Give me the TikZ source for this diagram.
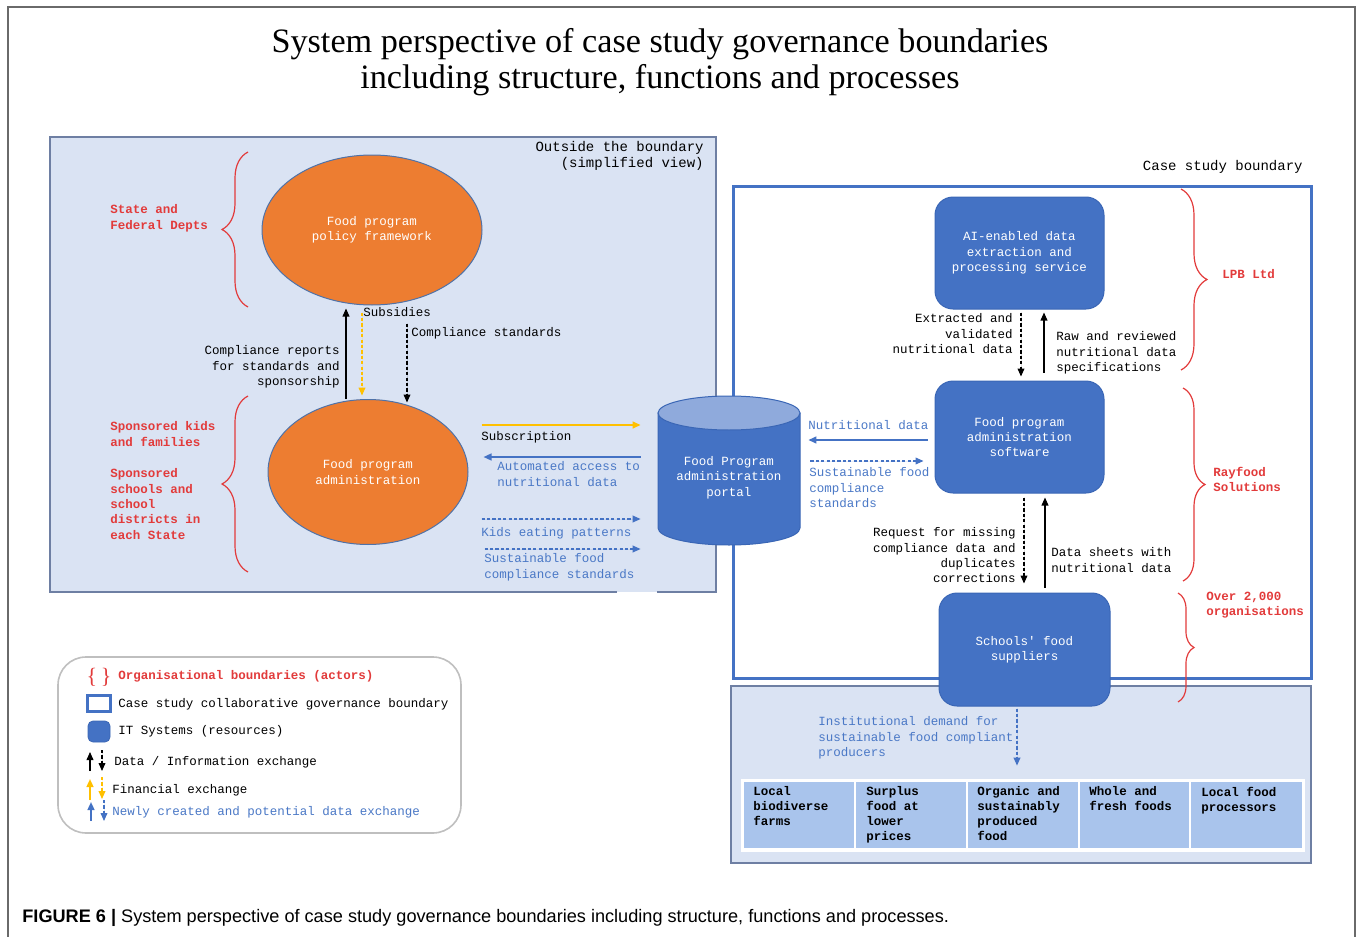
\documentclass[tikz,border=0pt]{standalone}
\usepackage{fontspec}
\setmainfont{Liberation Serif}
\setsansfont{Liberation Sans}
\setmonofont{Liberation Mono}
\usetikzlibrary{arrows.meta,decorations.pathreplacing,shapes.geometric,calc}
\definecolor{lbfill}{HTML}{DAE3F3}
\definecolor{lbdraw}{HTML}{6E7FA3}
\definecolor{itblue}{HTML}{4472C4}
\definecolor{itdraw}{HTML}{3A66B5}
\definecolor{orng}{HTML}{ED7D31}
\definecolor{elldraw}{HTML}{4F72A8}
\definecolor{ylw}{HTML}{FFC000}
\definecolor{rd}{HTML}{E23B3B}
\definecolor{bltxt}{HTML}{4A78C6}
\definecolor{cellc}{HTML}{A9C4EC}
\definecolor{captop}{HTML}{8FAADC}
\definecolor{legdraw}{HTML}{BFBFBF}
\definecolor{framec}{HTML}{6A6A6A}
\begin{document}
\begin{tikzpicture}[x=0.5pt,y=-0.5pt,
  tip/.style={-{Triangle[length=4pt,width=3.4pt]}},
  txt/.style={font=\ttfamily\fontsize{6.25}{7.65}\selectfont, inner sep=0pt, align=left},
  txtr/.style={txt, align=right},
  bigtxt/.style={font=\ttfamily\fontsize{7}{8}\selectfont, inner sep=0pt, align=right},
  redt/.style={text=rd, font=\ttfamily\bfseries\fontsize{6.25}{7.65}\selectfont},
  boldt/.style={font=\ttfamily\bfseries\fontsize{6.25}{7.5}\selectfont},
  blt/.style={text=bltxt},
  wtxt/.style={font=\ttfamily\fontsize{6.25}{7.65}\selectfont, align=center, text=white},
  solidk/.style={tip, draw=black, fill=black, line width=0.6pt},
  dashk/.style={tip, draw=black, fill=black, line width=0.6pt, dash pattern=on 1.6pt off 1.1pt},
  solidy/.style={tip, draw=ylw, fill=ylw, line width=0.9pt},
  dashy/.style={tip, draw=ylw, fill=ylw, line width=0.7pt, dash pattern=on 1.6pt off 1.1pt},
  solidb/.style={tip, draw=itblue, fill=itblue, line width=0.9pt},
  dashb/.style={tip, draw=itblue, fill=itblue, line width=0.6pt, dash pattern=on 1.6pt off 1.1pt},
  brc/.style={draw=rd, line width=0.6pt, decorate, decoration={brace, amplitude=#1}},
  itbox/.style={rectangle, rounded corners=9pt, fill=itblue, draw=itdraw, line width=0.5pt, wtxt, inner sep=0pt},
  orell/.style={ellipse, fill=orng, draw=elldraw, line width=0.5pt, wtxt, inner sep=0pt},
  cellbox/.style={fill=cellc},
]
\useasboundingbox (0,0) rectangle (1357,937);
% outer frame
\draw[framec, line width=0.9pt] (8,945) -- (8,7) -- (1355,7) -- (1355,945);

% title
\node[font=\fontsize{17.1}{18.5}\selectfont, anchor=base, inner sep=0pt] (title1) at (660,53) {System perspective of case study governance boundaries};
\node[font=\fontsize{17.1}{18.5}\selectfont, anchor=base, inner sep=0pt] (title2) at (660,88) {including structure, functions and processes};

% left box
\fill[lbfill] (50,137) rectangle (716,592);
\draw[lbdraw, line width=0.7pt] (617,592) -- (50,592) -- (50,137) -- (716,137) -- (716,592) -- (657,592);
\node[bigtxt, anchor=north east] (outside) at (704,141) {Outside the boundary\\(simplified view)};

% ellipses
\node[orell, minimum width=110pt, minimum height=75pt] (pol) at (372,230) {Food program\\policy framework};
\node[orell, minimum width=100pt, minimum height=72.5pt] (adm) at (368,472) {Food program\\administration};

% helper coordinates
\coordinate (v346) at (346,0);
\coordinate (v362) at (362,0);
\coordinate (v407) at (407,0);
\coordinate (h425) at (0,425);
\coordinate (h457) at (0,457);
\coordinate (h519) at (0,519);
\coordinate (h549) at (0,549);
\coordinate (h440) at (0,440);
\coordinate (h461) at (0,461);
\coordinate (v1021) at (1021,0);
\coordinate (v1044) at (1044,0);
\coordinate (v1024) at (1024,0);
\coordinate (v1045) at (1045,0);
\coordinate (v1017) at (1017,0);

% braces left
\draw[brc=13pt] (248,307) -- (248,152);
\draw[brc=13pt] (248,572) -- (248,396);
\node[txt, redt, anchor=north west] (state) at (110,204.5) {State and\\Federal Depts};
\node[txt, redt, anchor=north west] (kids) at (110,421.5) {Sponsored kids\\and families};
\node[txt, redt, anchor=north west] (schools) at (110,468.5) {Sponsored\\schools and\\school\\districts in\\each State};

% vertical arrows between ellipses
\draw[solidk, shorten >=1.5pt] (v346 |- adm.north) -- (v346 |- pol.south);
\draw[dashy, shorten <=3.5pt, shorten >=1.75pt] (v362 |- pol.south) -- (v362 |- adm.north);
\draw[dashk, shorten <=9pt, shorten >=-1.75pt] (v407 |- pol.south) -- (v407 |- adm.north);
\node[txt, anchor=north west] (subs) at (363,307.5) {Subsidies};
\node[txt, anchor=north west] (cstd) at (411,327.5) {Compliance standards};
\node[txtr, anchor=north east] (crep) at (340,345.5) {Compliance reports\\for standards and\\sponsorship};

% right area boxes
\fill[lbfill] (731,686) rectangle (1311,863);
\draw[lbdraw, line width=0.7pt] (731,686) rectangle (1311,863);
\draw[itblue, line width=1.5pt] (733,186) rectangle (1311,678);
\node[bigtxt, anchor=north east] (csb) at (1303,160) {Case study boundary};

% cylinder
\filldraw[fill=itblue, draw=itdraw, line width=0.5pt] (658,413) -- (658,528) arc[start angle=180, end angle=360, x radius=35.5pt, y radius=8.5pt] -- (800,413) -- cycle;
\filldraw[fill=captop, draw=itdraw, line width=0.5pt] (729,413) ellipse [x radius=35.5pt, y radius=8.5pt];
\node[wtxt, inner sep=0pt, minimum width=71pt] (portal) at (729,477.5) {Food Program\\administration\\portal};

% IT boxes
\node[itbox, minimum width=84.5pt, minimum height=56pt] (ai) at (1019.5,253) {AI-enabled data\\extraction and\\processing service};
\node[itbox, minimum width=84.5pt, minimum height=56pt] (sw) at (1019.5,437) {Food program\\administration\\software};
\node[itbox, minimum width=85.5pt, minimum height=56.5pt] (sup) at (1024.5,649.5) {Schools' food\\suppliers};

% horizontal arrows left
\draw[solidy, shorten <=6.5pt, shorten >=8.5pt] (adm.east |- h425) -- (portal.west |- h425);
\draw[solidb, shorten <=8.5pt, shorten >=7.5pt] (portal.west |- h457) -- (adm.east |- h457);
\draw[dashb, shorten <=6.5pt, shorten >=8.5pt] (adm.east |- h519) -- (portal.west |- h519);
\draw[dashb, shorten <=8pt, shorten >=8.5pt] (adm.east |- h549) -- (portal.west |- h549);
\node[txt, anchor=north west] (subscr) at (481,431.5) {Subscription};
\node[txt, blt, anchor=north west] (auto) at (497,461.5) {Automated access to\\nutritional data};
\node[txt, blt, anchor=north west] (keat) at (481,527.5) {Kids eating patterns};
\node[txt, blt, anchor=north west] (sfcs1) at (484,553.5) {Sustainable food\\compliance standards};

% arrows portal - software
\draw[solidb, shorten <=3.5pt, shorten >=4pt] (sw.west |- h440) -- (portal.east |- h440);
\draw[dashb, shorten <=5pt, shorten >=5.5pt] (portal.east |- h461) -- (sw.west |- h461);
\node[txt, blt, anchor=north west] (nutd) at (808,420.5) {Nutritional data};
\node[txt, blt, anchor=north west] (sfcs2) at (809,467.5) {Sustainable food\\compliance\\standards};

% arrows AI - software
\draw[dashk, shorten <=1.5pt, shorten >=2pt] (v1021 |- ai.south) -- (v1021 |- sw.north);
\draw[solidk, shorten <=4pt, shorten >=1.5pt] (v1044 |- sw.north) -- (v1044 |- ai.south);
\node[txtr, anchor=north east] (extr) at (1013,313.5) {Extracted and\\validated\\nutritional data};
\node[txt, anchor=north west] (raw) at (1056,331.5) {Raw and reviewed\\nutritional data\\specifications};

% arrows software - suppliers
\draw[dashk, shorten <=2pt, shorten >=4.5pt] (v1024 |- sw.south) -- (v1024 |- sup.north);
\draw[solidk, shorten <=2.5pt, shorten >=2pt] (v1045 |- sup.north) -- (v1045 |- sw.south);
\node[txtr, anchor=north east] (req) at (1016,527.5) {Request for missing\\compliance data and\\duplicates\\corrections};
\node[txt, anchor=north west] (dsheet) at (1051,547.5) {Data sheets with\\nutritional data};

% right braces
\draw[brc=13pt] (1181,189) -- (1181,370);
\draw[brc=11pt] (1183,388) -- (1183,581);
\draw[brc=8pt] (1178,593) -- (1178,702);
\node[txt, redt, anchor=north west] (lpb) at (1222,269.5) {LPB Ltd};
\node[txt, redt, anchor=north west] (ray) at (1213,466.5) {Rayfood\\Solutions};
\node[txt, redt, anchor=north west] (over) at (1206,591.5) {Over 2,000\\organisations};

% table
\node[fill=white, minimum width=282pt, minimum height=36.5pt, inner sep=0pt] (tbl) at (1023,815.5) {};
\fill[cellbox] (744,782) rectangle (854,848);
\fill[cellbox] (856,782) rectangle (966,848);
\fill[cellbox] (968,782) rectangle (1078,848);
\fill[cellbox] (1080,782) rectangle (1189,848);
\fill[cellbox] (1191,782) rectangle (1302,848);
\node[txt, boldt, anchor=north west] (c1) at (753,786.5) {Local\\biodiverse\\farms};
\node[txt, boldt, anchor=north west] (c2) at (866,786.5) {Surplus\\food at\\lower\\prices};
\node[txt, boldt, anchor=north west] (c3) at (977,786.5) {Organic and\\sustainably\\produced\\food};
\node[txt, boldt, anchor=north west] (c4) at (1089,786.5) {Whole and\\fresh foods};
\node[txt, boldt, anchor=north west] (c5) at (1201,786.5) {Local food\\processors};

\draw[dashb, shorten <=1pt, shorten >=6.5pt] (v1017 |- sup.south) -- (v1017 |- tbl.north);
\node[txt, blt, anchor=north west] (inst) at (818,716.5) {Institutional demand for\\sustainable food compliant\\producers};

% legend
\draw[draw=legdraw, line width=0.8pt, rounded corners=14pt, fill=white] (58,657) rectangle (461,833);
\node[text=rd, font=\fontsize{11}{11}\selectfont, inner sep=0pt] (lbr) at (99,677) {\{\,\}};
\node[txt, redt, anchor=north west] (l1) at (118,670.5) {Organisational boundaries (actors)};
\draw[itblue, line width=1.5pt] (87,695) rectangle (110,711);
\node[txt, anchor=north west] (l2) at (118,698.5) {Case study collaborative governance boundary};
\filldraw[fill=itblue, draw=itdraw, rounded corners=2.5pt] (88,721) rectangle (110,742);
\node[txt, anchor=north west] (l3) at (118,725.5) {IT Systems (resources)};
\draw[solidk] (90,771) -- (90,752);
\draw[dashk] (102,750) -- (102,771);
\node[txt, anchor=north west] (l4) at (114,756.5) {Data / Information exchange};
\draw[solidy] (90,800) -- (90,779);
\draw[dashy] (102,777) -- (102,799);
\node[txt, anchor=north west] (l5) at (112,784.5) {Financial exchange};
\draw[solidb] (91,821) -- (91,802);
\draw[dashb] (104,800) -- (104,821);
\node[txt, blt, anchor=north west] (l6) at (112,806.5) {Newly created and potential data exchange};

% caption
\node[font=\sffamily\fontsize{9.07}{10}\selectfont, anchor=base west, inner sep=0pt] (cap) at (22,922) {\textbf{FIGURE 6 |} System perspective of case study governance boundaries including structure, functions and processes.};
\end{tikzpicture}
\end{document}
